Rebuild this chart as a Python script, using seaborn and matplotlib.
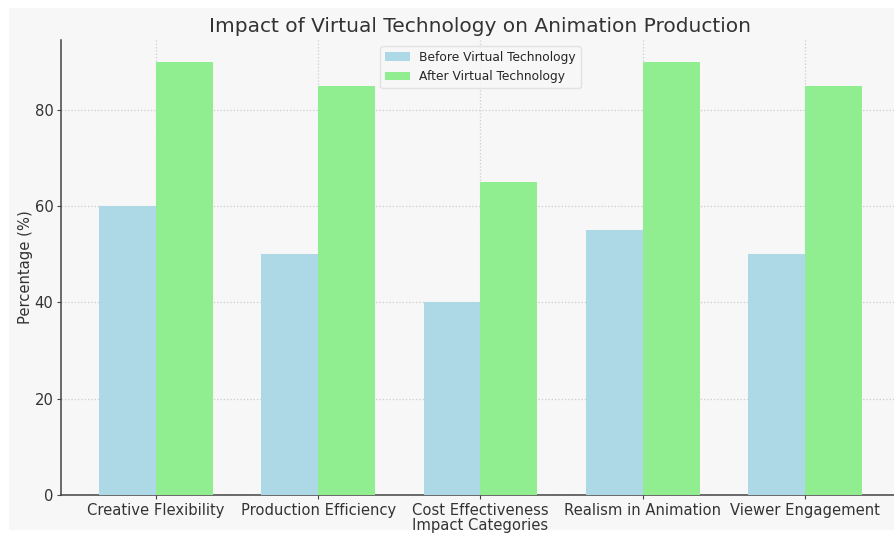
import matplotlib
matplotlib.use("Agg")
import matplotlib.pyplot as plt
import seaborn as sns
import pandas as pd
from matplotlib.patches import Rectangle

categories = ["Creative Flexibility", "Production Efficiency", "Cost Effectiveness",
              "Realism in Animation", "Viewer Engagement"]
before_vals = [60, 50, 40, 55, 50]
after_vals = [90, 85, 65, 90, 85]
series_names = ["Before Virtual Technology", "After Virtual Technology"]
colors = ["#add8e6", "#90ee90"]

df = pd.DataFrame({
    "Category": categories * 2,
    "Value": before_vals + after_vals,
    "Series": [series_names[0]] * len(categories) + [series_names[1]] * len(categories),
})

sns.set_style("white")
plt.rcParams['font.family'] = ['DejaVu Sans']

fig = plt.figure(figsize=(8.94, 5.39), dpi=100, facecolor="white")
bg = Rectangle((9 / 894, 1 - 530 / 539), 1, (530 - 8) / 539, transform=fig.transFigure,
               facecolor="#f7f7f7", edgecolor="none", zorder=-10)
fig.patches.append(bg)

ax = fig.add_axes([61 / 894, 1 - 495 / 539, 839 / 894, 455 / 539])
ax.set_facecolor("#f7f7f7")

sns.barplot(data=df, x="Category", y="Value", hue="Series", palette=colors,
            saturation=1, width=0.7, linewidth=0, ax=ax, zorder=3)

ax.set_xlim(-0.585, 4.585)
ax.set_ylim(0, 94.5)
ax.set_yticks([0, 20, 40, 60, 80])
ax.grid(True, linestyle=":", color="#cccccc", linewidth=0.9, zorder=0)
ax.set_axisbelow(True)

for s in ["top", "right"]:
    ax.spines[s].set_visible(False)
for s in ["left", "bottom"]:
    ax.spines[s].set_color("#444444")
    ax.spines[s].set_linewidth(1.1)

ax.tick_params(axis="both", which="major", length=3, width=0.8, color="#444444",
               labelsize=10.6, labelcolor="#333333", left=True, bottom=True, pad=2.5)

ax.set_title("Impact of Virtual Technology on Animation Production",
             fontsize=14.5, color="#333333", pad=6)
ax.set_xlabel("Impact Categories", fontsize=10.6, color="#333333", labelpad=0)
ax.set_ylabel("Percentage (%)", fontsize=10.6, color="#333333", labelpad=1)

leg = ax.legend(loc="upper center", fontsize=8.8, frameon=True, title=None,
                borderaxespad=0.5)
leg.get_frame().set_edgecolor("#dddddd")
leg.get_frame().set_facecolor("#f7f7f7")

fig.savefig("out.png", dpi=100, facecolor="white")
